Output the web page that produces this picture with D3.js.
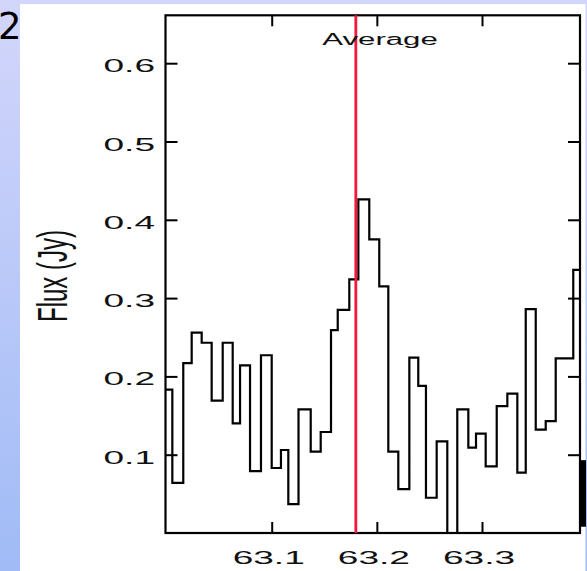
<!DOCTYPE html>
<html>
<head>
<meta charset="utf-8">
<script src="https://cdn.jsdelivr.net/npm/d3@7/dist/d3.min.js"></script>
<style>
  html, body { margin: 0; padding: 0; background: #ffffff; }
  svg { display: block; }
</style>
</head>
<body>
<svg id="chart" width="587" height="571"></svg>
<script>
// Spectrum bin edges (micron) and averaged flux per bin (Jy)
const wavelengthEdges = [
  62.995, 63.0055, 63.0159, 63.0239, 63.0334, 63.0429, 63.0534, 63.0629, 63.0699,
  63.0794, 63.0898, 63.1000, 63.1088, 63.1158, 63.1255, 63.1371, 63.1466, 63.1564,
  63.1628, 63.1738, 63.1824, 63.1928, 63.2023, 63.2109, 63.2204, 63.2309, 63.2394,
  63.2467, 63.2569, 63.2670, 63.2765, 63.2870, 63.2943, 63.3035, 63.3140, 63.3241,
  63.3336, 63.3416, 63.3511, 63.3606, 63.3701, 63.3868, 63.400
];
const fluxValues = [
  0.183, 0.064, 0.217, 0.256, 0.243, 0.169, 0.243, 0.140, 0.214, 0.079,
  0.227, 0.083, 0.106, 0.037, 0.158, 0.104, 0.129, 0.259, 0.285, 0.324,
  0.426, 0.375, 0.315, 0.104, 0.056, 0.224, 0.188, 0.045, 0.117, -0.020,
  0.158, 0.109, 0.127, 0.085, 0.162, 0.178, 0.077, 0.286, 0.132, 0.143,
  0.223, 0.336
];
const xTickValues = [63.1, 63.2, 63.3];
const xTickLabels = ["63.1", "63.2", "63.3"];
const yTickValues = [0.1, 0.2, 0.3, 0.4, 0.5, 0.6];
const yTickLabels = ["0.1", "0.2", "0.3", "0.4", "0.5", "0.6"];
const averageWavelength = 63.18;
const averageLabel = "Average";
const yAxisTitle = "Flux (Jy)";
const panelNumber = "2";

const W = 587, H = 571;
const plot = { left: 165.5, right: 580, top: 15.3, bottom: 533 };
const SX = 1.95;           // horizontal stretch of the lettering
const FONT = "'Liberation Sans', Arial, Helvetica, sans-serif";

const svg = d3.select("#chart");
const defs = svg.append("defs");

// slide background: blue gradient border with a white panel
const grad = defs.append("linearGradient")
  .attr("id", "bg").attr("x1", 0).attr("y1", 0).attr("x2", 0).attr("y2", 1);
grad.append("stop").attr("offset", "0%").attr("stop-color", "#d3d6fb");
grad.append("stop").attr("offset", "100%").attr("stop-color", "#a0bbf6");
svg.append("rect").attr("width", W).attr("height", H).attr("fill", "url(#bg)");
svg.append("rect").attr("x", 20).attr("y", 4).attr("width", 565.5).attr("height", H - 4)
  .attr("fill", "#ffffff");

svg.append("text")
  .attr("x", -2).attr("y", 39)
  .attr("font-family", "'DejaVu Sans', Verdana, sans-serif")
  .attr("font-size", 37)
  .attr("fill", "#000")
  .text(panelNumber);

const x = d3.scaleLinear().domain([62.999, 63.3932]).range([plot.left, plot.right]);
const y = d3.scaleLinear().domain([0, (plot.bottom - plot.top) / 783]).range([plot.bottom, plot.top]);

defs.append("clipPath").attr("id", "plotClip")
  .append("rect")
  .attr("x", plot.left).attr("y", plot.top)
  .attr("width", plot.right - plot.left).attr("height", plot.bottom - plot.top);

// step histogram
const stepPoints = fluxValues.map((v, i) => [wavelengthEdges[i], v]);
stepPoints.push([wavelengthEdges[wavelengthEdges.length - 1], fluxValues[fluxValues.length - 1]]);
const stepLine = d3.line()
  .x(d => x(d[0]))
  .y(d => y(d[1]))
  .curve(d3.curveStepAfter);

svg.append("path")
  .attr("clip-path", "url(#plotClip)")
  .attr("d", stepLine(stepPoints))
  .attr("fill", "none")
  .attr("stroke", "#000")
  .attr("stroke-width", 2.2)
  .attr("stroke-linejoin", "miter");

// ticks on all four sides, pointing inward
const tickStyle = g => g.call(s => s.select(".domain").remove())
  .call(s => s.selectAll(".tick line").attr("stroke", "#000").attr("stroke-width", 2))
  .call(s => s.selectAll(".tick text").remove());

svg.append("g").attr("transform", `translate(${plot.left},0)`)
  .call(d3.axisLeft(y).tickValues(yTickValues).tickSize(-12)).call(tickStyle);
svg.append("g").attr("transform", `translate(${plot.right},0)`)
  .call(d3.axisRight(y).tickValues(yTickValues).tickSize(-12)).call(tickStyle);
svg.append("g").attr("transform", `translate(0,${plot.bottom})`)
  .call(d3.axisBottom(x).tickValues(xTickValues).tickSize(-11)).call(tickStyle);
svg.append("g").attr("transform", `translate(0,${plot.top})`)
  .call(d3.axisTop(x).tickValues(xTickValues).tickSize(-11)).call(tickStyle);

// frame
svg.append("rect")
  .attr("x", plot.left).attr("y", plot.top)
  .attr("width", plot.right - plot.left).attr("height", plot.bottom - plot.top)
  .attr("fill", "none").attr("stroke", "#000").attr("stroke-width", 2.2);

// mark just beyond the right edge of the frame
svg.append("rect")
  .attr("x", plot.right).attr("y", y(0.093))
  .attr("width", 6).attr("height", y(0.008) - y(0.093))
  .attr("fill", "#000");

// average line
svg.append("line")
  .attr("x1", x(averageWavelength)).attr("x2", x(averageWavelength))
  .attr("y1", plot.top).attr("y2", plot.bottom)
  .attr("stroke", "#f5163c").attr("stroke-width", 2.8);

// lettering
svg.append("g").selectAll("text").data(yTickValues).join("text")
  .attr("transform", d => `translate(155,${y(d) + 9}) scale(${SX},1)`)
  .attr("text-anchor", "end")
  .attr("font-family", FONT).attr("font-size", 19).attr("fill", "#111")
  .text((d, i) => yTickLabels[i]);

svg.append("g").selectAll("text").data(xTickValues).join("text")
  .attr("transform", d => `translate(${x(d) - 3},564) scale(${SX},1)`)
  .attr("text-anchor", "middle")
  .attr("font-family", FONT).attr("font-size", 19).attr("fill", "#111")
  .text((d, i) => xTickLabels[i]);

svg.append("text")
  .attr("transform", `translate(380,45) scale(${SX},1)`)
  .attr("text-anchor", "middle")
  .attr("font-family", FONT).attr("font-size", 16).attr("fill", "#111")
  .text(averageLabel);

svg.append("text")
  .attr("transform", `translate(67,276) scale(1.75,1) rotate(-90)`)
  .attr("text-anchor", "middle")
  .attr("font-family", FONT).attr("font-size", 24).attr("fill", "#111")
  .text(yAxisTitle);
</script>
</body>
</html>
